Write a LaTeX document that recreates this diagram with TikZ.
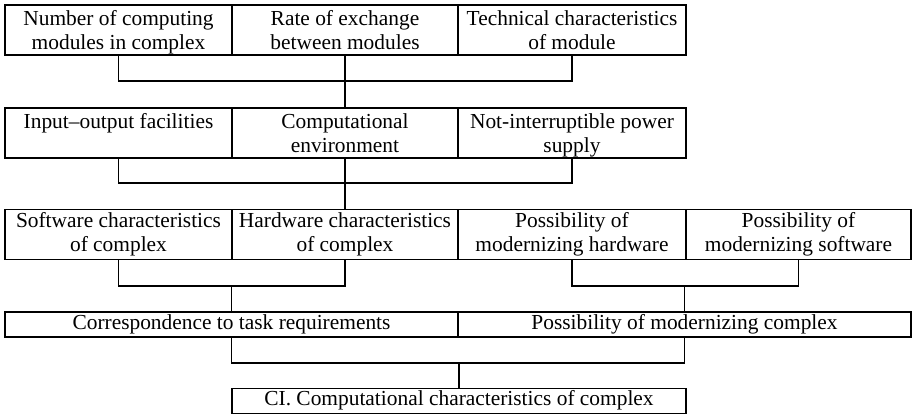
\documentclass[tikz,border=0pt]{standalone}
\usepackage{fontspec}
\setmainfont{Liberation Serif}
% fixed-height text blocks: first baseline at a set distance below the top edge
\newcommand{\boxlines}[2][21pt]{\parbox[c][50pt][t]{222pt}{\centering\rule{0pt}{#1}#2}}
\newcommand{\boxline}[1]{\parbox[c][25pt][t]{440pt}{\centering\rule{0pt}{17.3pt}#1}}
\begin{document}
\begin{tikzpicture}[x=1pt,y=-1pt,
  box/.style={draw, line width=1.6pt, rectangle, inner sep=0pt,
    font=\fontsize{21.4}{24}\selectfont},
  tall/.style={box, minimum height=50pt},
  flat/.style={box, minimum height=25pt},
  link/.style={line width=1.6pt}]
\useasboundingbox (0,0) rectangle (912,417);

% first level
\node[tall, minimum width=227pt] (r1a) at (118.5,30) {\boxlines{Number of computing\\modules in complex}};
\node[tall, minimum width=226pt] (r1b) at (345,30) {\boxlines{Rate of exchange\\between modules}};
\node[tall, minimum width=228pt] (r1c) at (572,30) {\boxlines{Technical characteristics\\of module}};

% second level
\node[tall, minimum width=227pt] (r2a) at (118.5,133) {\boxlines[20pt]{Input–output facilities}};
\node[tall, minimum width=226pt] (r2b) at (345,133) {\boxlines[20pt]{Computational\\environment}};
\node[tall, minimum width=228pt] (r2c) at (572,133) {\boxlines[20pt]{Not-interruptible power\\supply}};

% third level
\node[tall, minimum width=227pt] (r3a) at (118.5,234.5) {\boxlines[17.5pt]{Software characteristics\\of complex}};
\node[tall, minimum width=226pt] (r3b) at (345,234.5) {\boxlines[17.5pt]{Hardware characteristics\\of complex}};
\node[tall, minimum width=228pt] (r3c) at (572,234.5) {\boxlines[17.5pt]{Possibility of\\modernizing hardware}};
\node[tall, minimum width=225pt] (r3d) at (798.5,234.5) {\boxlines[17.5pt]{Possibility of\\modernizing software}};

% fourth level
\node[flat, minimum width=453pt] (r4a) at (231.5,324.5) {\boxline{Correspondence to task requirements}};
\node[flat, minimum width=453pt] (r4b) at (684.5,324.5) {\boxline{Possibility of modernizing complex}};

% result
\node[flat, minimum width=454pt] (r5) at (459,401) {\boxline{CI. Computational characteristics of complex}};

% levels of the joining lines
\coordinate (y1) at (0,81);
\coordinate (y2) at (0,183);
\coordinate (y3) at (0,286);
\coordinate (y4) at (0,363);

% connectors
\draw[link] (r1a.south) |- (r1c.south |- y1) -- (r1c.south);
\draw[link] (r1b.south) -- (r2b.north);

\draw[link] (r2a.south) |- (r2c.south |- y2) -- (r2c.south);
\draw[link] (r2b.south) -- (r3b.north);

\draw[link] (r3a.south) |- (r3b.south |- y3) -- (r3b.south);
\draw[link] (r4a.north |- y3) -- (r4a.north);
\draw[link] (r3c.south) |- (r3d.south |- y3) -- (r3d.south);
\draw[link] (r4b.north |- y3) -- (r4b.north);

\draw[link] (r4a.south) |- (r4b.south |- y4) -- (r4b.south);
\draw[link] (r5.north |- y4) -- (r5.north);
\end{tikzpicture}
\end{document}
